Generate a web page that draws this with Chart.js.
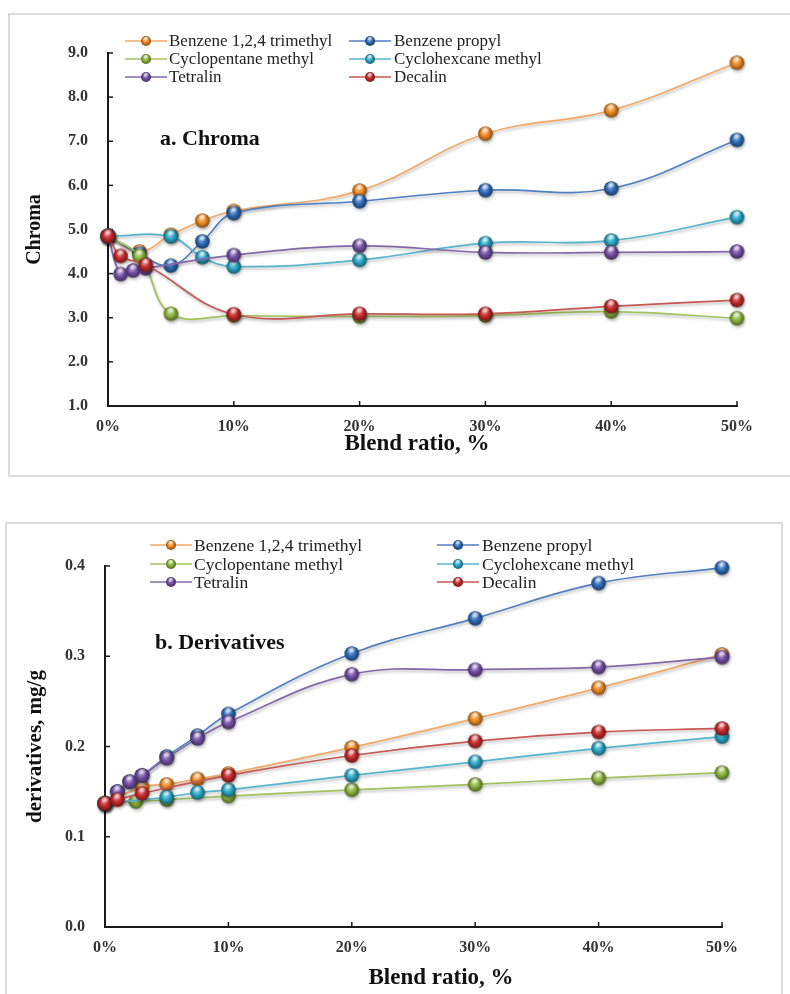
<!DOCTYPE html>
<html><head><meta charset="utf-8">
<script src="https://cdn.jsdelivr.net/npm/chart.js@4.4.1/dist/chart.umd.min.js"></script>
<style>
html,body{margin:0;padding:0;background:#fff;width:790px;height:994px;overflow:hidden;position:relative;}
.frame{position:absolute;border:2px solid #dcdcdc;box-sizing:border-box;}
#f1{left:8px;top:13px;width:800px;height:464px;}
#f2{left:5px;top:522px;width:778px;height:490px;}
.wrap{position:absolute;left:0;width:790px;}
#w1{top:0;height:480px;}
#w2{top:480px;height:514px;}
canvas{display:block;}
</style></head><body>
<div class="frame" id="f1"></div><div class="frame" id="f2"></div>
<div class="wrap" id="w1"><canvas id="c1" width="790" height="480"></canvas></div>
<div class="wrap" id="w2"><canvas id="c2" width="790" height="514"></canvas></div>
<script>
// ---------- DATA ----------
const seriesNames = ['Benzene 1,2,4 trimethyl','Benzene propyl','Cyclopentane methyl','Cyclohexcane methyl','Tetralin','Decalin'];

// a. Chroma
const chromaTrimethylX = [0, 2.5, 5, 7.5, 10, 20, 30, 40, 50];
const chromaTrimethylY = [4.85, 4.5, 4.88, 5.2, 5.42, 5.88, 7.17, 7.7, 8.78];
const chromaPropylX = [0, 2.5, 5, 7.5, 10, 20, 30, 40, 50];
const chromaPropylY = [4.85, 4.45, 4.18, 4.73, 5.37, 5.64, 5.89, 5.93, 7.03];
const chromaCyclopentaneX = [0, 2.5, 5, 10, 20, 30, 40, 50];
const chromaCyclopentaneY = [4.85, 4.4, 3.09, 3.05, 3.03, 3.05, 3.14, 2.99];
const chromaCyclohexaneX = [0, 5, 7.5, 10, 20, 30, 40, 50];
const chromaCyclohexaneY = [4.85, 4.84, 4.37, 4.16, 4.31, 4.69, 4.75, 5.28];
const chromaTetralinX = [0, 1, 2, 3, 10, 20, 30, 40, 50];
const chromaTetralinY = [4.85, 3.99, 4.07, 4.12, 4.42, 4.63, 4.48, 4.48, 4.5];
const chromaDecalinX = [0, 1, 3, 10, 20, 30, 40, 50];
const chromaDecalinY = [4.85, 4.4, 4.2, 3.08, 3.09, 3.09, 3.26, 3.4];

// b. Derivatives
const derivTrimethylX = [0, 3, 5, 7.5, 10, 20, 30, 40, 50];
const derivTrimethylY = [0.137, 0.155, 0.158, 0.164, 0.170, 0.199, 0.231, 0.265, 0.302];
const derivPropylX = [0, 1, 2, 3, 5, 7.5, 10, 20, 30, 40, 50];
const derivPropylY = [0.137, 0.150, 0.161, 0.168, 0.189, 0.212, 0.236, 0.303, 0.342, 0.381, 0.398];
const derivCyclopentaneX = [0, 2.5, 5, 10, 20, 30, 40, 50];
const derivCyclopentaneY = [0.137, 0.139, 0.141, 0.145, 0.152, 0.158, 0.165, 0.171];
const derivCyclohexaneX = [0, 5, 7.5, 10, 20, 30, 40, 50];
const derivCyclohexaneY = [0.137, 0.144, 0.149, 0.152, 0.168, 0.183, 0.198, 0.211];
const derivTetralinX = [0, 1, 2, 3, 5, 7.5, 10, 20, 30, 40, 50];
const derivTetralinY = [0.137, 0.150, 0.161, 0.168, 0.187, 0.209, 0.227, 0.280, 0.285, 0.288, 0.299];
const derivDecalinX = [0, 1, 3, 10, 20, 30, 40, 50];
const derivDecalinY = [0.137, 0.141, 0.148, 0.168, 0.190, 0.206, 0.216, 0.220];

// ---------- STYLE ----------
const markerColors = ['#EE8A23','#2E6DB9','#8DB53C','#2AA8C8','#7450A6','#C72A2B'];
const lineColors   = ['#F2A866','#4F7FBF','#A2C25E','#56B4CE','#8467A9','#C85652'];
const drawOrder    = [5, 4, 3, 2, 1, 0];
const SERIF = "'Liberation Serif', 'Times New Roman', serif";

function mix(hex, hex2, t){
  const a=parseInt(hex.slice(1),16), b=parseInt(hex2.slice(1),16);
  const r=Math.round(((a>>16)&255)*(1-t)+((b>>16)&255)*t);
  const g=Math.round(((a>>8)&255)*(1-t)+((b>>8)&255)*t);
  const bl=Math.round((a&255)*(1-t)+(b&255)*t);
  return 'rgb('+r+','+g+','+bl+')';
}
function sphere(color, r){
  const c=document.createElement('canvas'); const s=Math.ceil(2*r+2);
  c.width=s; c.height=s;
  const g=c.getContext('2d'); const cx=s/2, cy=s/2;
  const grad=g.createRadialGradient(cx-r*0.2, cy-r*0.35, r*0.05, cx, cy, r);
  grad.addColorStop(0, mix(color,'#ffffff',0.55));
  grad.addColorStop(0.5, color);
  grad.addColorStop(1, mix(color,'#000000',0.45));
  g.fillStyle=grad; g.beginPath(); g.arc(cx,cy,r,0,Math.PI*2); g.fill();
  const hg=g.createRadialGradient(cx, cy-r*0.55, 0, cx, cy-r*0.55, r*0.6);
  hg.addColorStop(0,'rgba(255,255,255,0.8)'); hg.addColorStop(1,'rgba(255,255,255,0)');
  g.fillStyle=hg; g.beginPath(); g.ellipse(cx, cy-r*0.5, r*0.6, r*0.38, 0, 0, Math.PI*2); g.fill();
  return c;
}
const bigSprites = markerColors.map(c=>sphere(c,7.3));
const smallSprites = markerColors.map(c=>sphere(c,5));

function pts(xs, ys){ return xs.map((x,i)=>({x:x, y:ys[i]})); }

function buildDatasets(pairs){
  return pairs.map((p,i)=>({
    label: seriesNames[i],
    data: pts(p[0], p[1]),
    showLine: true,
    borderColor: lineColors[i],
    borderWidth: 1.7,
    tension: 0.4,
    pointStyle: bigSprites[i],
    pointRadius: 7,
    pointHoverRadius: 7,
    backgroundColor: markerColors[i],
    order: drawOrder[i],
    clip: false
  }));
}

const decorPlugin = {
  id: 'decor',
  beforeDatasetsDraw(chart){
    const ctx=chart.ctx, a=chart.chartArea, xs=chart.scales.x, ys=chart.scales.y;
    ctx.save(); ctx.strokeStyle='#1a1a1a'; ctx.lineWidth=1.5;
    xs.ticks.forEach((t,i)=>{ const px=xs.getPixelForTick(i); if (i===0) return;
      ctx.beginPath(); ctx.moveTo(px,a.bottom); ctx.lineTo(px,a.bottom-5); ctx.stroke(); });
    ys.ticks.forEach((t,i)=>{ const py=ys.getPixelForTick(i);
      ctx.beginPath(); ctx.moveTo(a.left,py); ctx.lineTo(a.left+5,py); ctx.stroke(); });
    ctx.restore();
  },
  beforeDatasetDraw(chart){
    const ctx=chart.ctx; ctx.save();
    ctx.shadowColor='rgba(0,0,0,0.28)'; ctx.shadowBlur=3; ctx.shadowOffsetX=1; ctx.shadowOffsetY=2;
  },
  afterDatasetDraw(chart){ chart.ctx.restore(); },
  afterDraw(chart, args, opts){
    const ctx=chart.ctx, g=opts.geom;
    ctx.save();
    // legend
    ctx.font = g.legendFont + 'px ' + SERIF;
    ctx.textBaseline='middle'; ctx.textAlign='left'; ctx.fillStyle='#222';
    chart.data.datasets.forEach((ds,i)=>{
      const col=g.legendCols[i%2], y=g.legendRows[Math.floor(i/2)];
      ctx.strokeStyle=lineColors[i]; ctx.lineWidth=1.6;
      ctx.beginPath(); ctx.moveTo(col.x1,y); ctx.lineTo(col.x2,y); ctx.stroke();
      const sp=smallSprites[i], cx=(col.x1+col.x2)/2;
      ctx.drawImage(sp, cx-sp.width/2, y-sp.height/2);
      ctx.fillText(ds.label, col.tx, y+1);
    });
    // panel label
    ctx.font = 'bold ' + g.label.size + 'px ' + SERIF; ctx.fillStyle='#111';
    ctx.fillText(g.label.text, g.label.x, g.label.y);
    // x title
    ctx.font = 'bold ' + g.xTitle.size + 'px ' + SERIF; ctx.textAlign='center';
    ctx.fillText(g.xTitle.text, g.xTitle.x, g.xTitle.y);
    ctx.restore();
  }
};

function makeChart(id, datasets, yOpts, geom){
  return new Chart(document.getElementById(id), {
    type: 'scatter',
    data: { datasets: datasets },
    plugins: [decorPlugin],
    options: {
      responsive: false, animation: false, devicePixelRatio: 1,
      layout: { padding: geom.padding },
      plugins: { legend: {display:false}, tooltip: {enabled:false}, decor: {geom: geom} },
      scales: {
        x: {
          type: 'linear', min: 0, max: 50,
          afterFit: s => { s.height = geom.xh; },
          ticks: { stepSize: 10, callback: v => v + '%', maxRotation: 0, padding: 11,
                   font: {family: SERIF, size: 16, weight: 'bold'}, color: '#333' },
          grid: { display: false, drawTicks: false },
          border: { display: true, color: '#1a1a1a', width: 2 }
        },
        y: {
          type: 'linear', min: yOpts.min, max: yOpts.max,
          afterFit: s => { s.width = geom.yw; },
          ticks: { stepSize: yOpts.step, callback: v => Number(v).toFixed(1), padding: 20,
                   font: {family: SERIF, size: 16, weight: 'bold'}, color: '#333' },
          grid: { display: false, drawTicks: false },
          border: { display: true, color: '#1a1a1a', width: 2 },
          title: { display: true, text: yOpts.title, color: '#111',
                   font: {family: SERIF, size: yOpts.titleSize, weight: 'bold'},
                   padding: {top: yOpts.titlePad, bottom: 0} }
        }
      }
    }
  });
}

makeChart('c1', buildDatasets([
  [chromaTrimethylX, chromaTrimethylY],
  [chromaPropylX, chromaPropylY],
  [chromaCyclopentaneX, chromaCyclopentaneY],
  [chromaCyclohexaneX, chromaCyclohexaneY],
  [chromaTetralinX, chromaTetralinY],
  [chromaDecalinX, chromaDecalinY]
]), {min: 1, max: 9, step: 1, title: 'Chroma', titleSize: 20, titlePad: 23}, {
  padding: {left: 0, right: 53, top: 53, bottom: 0}, yw: 108, xh: 74,
  legendFont: 17, legendCols: [{x1:125,x2:167,tx:169},{x1:349,x2:391,tx:394}], legendRows: [41,59,77],
  label: {text: 'a. Chroma', x: 160, y: 139, size: 22},
  xTitle: {text: 'Blend ratio, %', x: 417, y: 444, size: 23}
});

makeChart('c2', buildDatasets([
  [derivTrimethylX, derivTrimethylY],
  [derivPropylX, derivPropylY],
  [derivCyclopentaneX, derivCyclopentaneY],
  [derivCyclohexaneX, derivCyclohexaneY],
  [derivTetralinX, derivTetralinY],
  [derivDecalinX, derivDecalinY]
]), {min: 0, max: 0.4, step: 0.1, title: 'derivatives, mg/g', titleSize: 21, titlePad: 23}, {
  padding: {left: 0, right: 68, top: 86, bottom: 0}, yw: 105, xh: 67,
  legendFont: 17.5, legendCols: [{x1:150,x2:192,tx:194},{x1:437,x2:479,tx:482}], legendRows: [65,84,102],
  label: {text: 'b. Derivatives', x: 155, y: 163, size: 22},
  xTitle: {text: 'Blend ratio, %', x: 441, y: 498, size: 23}
});
</script>
</body></html>
